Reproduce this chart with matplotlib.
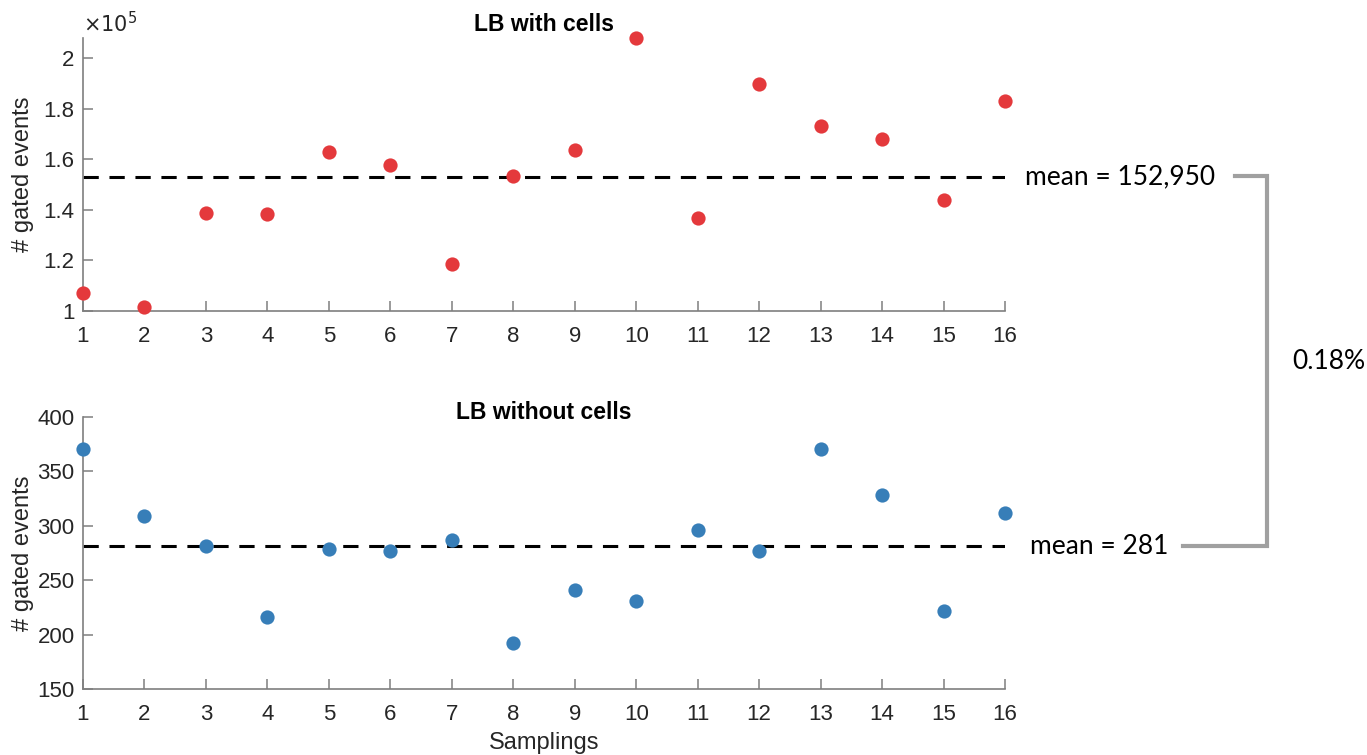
import numpy as np
import matplotlib.pyplot as plt
from matplotlib.ticker import FuncFormatter, MultipleLocator
from matplotlib.lines import Line2D

plt.rcParams['font.family'] = ['Liberation Sans', 'DejaVu Sans']

# data
samplings = list(range(1, 17))
with_cells = [107100, 101600, 138700, 138300, 162800, 157700, 118600, 153400,
              163600, 208000, 136800, 189700, 173100, 168000, 143900, 183000]
without_cells = [371, 309, 281, 216, 279, 277, 287, 192,
                 241, 231, 296, 277, 371, 328, 222, 312]
mean_with = 152950
mean_without = 281
ratio_label = "0.18%"

red = "#E4393C"
blue = "#377EB8"
axis_gray = "#7f7f7f"
text_gray = "#262626"

W, H = 1367, 755
fig = plt.figure(figsize=(W / 100, H / 100), dpi=100)


def px(x0, y0, x1, y1):
    return [x0 / W, 1 - y1 / H, (x1 - x0) / W, (y1 - y0) / H]


ax1 = fig.add_axes(px(83, 38, 1005, 311))
ax2 = fig.add_axes(px(83, 417, 1005, 689))

for ax in (ax1, ax2):
    for s in ("top", "right"):
        ax.spines[s].set_visible(False)
    for s in ("left", "bottom"):
        ax.spines[s].set_color(axis_gray)
        ax.spines[s].set_linewidth(1.2)
    ax.tick_params(direction="in", length=7, width=1.1, color=axis_gray,
                   labelsize=16, labelcolor=text_gray, pad=6)
    ax.tick_params(axis="x", pad=11)
    ax.set_xlim(1, 16)
    ax.set_xticks(samplings)
    ax.set_ylabel("# gated events", fontsize=17, color=text_gray)
    ax.yaxis.set_label_coords(-0.053, 0.5)

# top panel
ax1.scatter(samplings, with_cells, s=105, color=red, zorder=3, clip_on=False,
            linewidths=0)
ax1.axhline(mean_with, color="black", lw=2.2, ls=(0, (5, 3.5)), zorder=2)
ax1.set_ylim(1.0e5, 2.08e5)
ax1.yaxis.set_major_locator(MultipleLocator(0.2e5))
ax1.yaxis.set_major_formatter(FuncFormatter(lambda v, p: "%g" % round(v / 1e5, 2)))
ax1.text(0.0, 1.005, r"$\times10^5$", transform=ax1.transAxes, fontsize=15,
         color=text_gray, va="bottom", ha="left")
ax1.set_title("LB with cells", fontsize=16.5, fontweight="bold", pad=5)
ax1.text(1.0217, mean_with, "mean = 152,950", transform=ax1.get_yaxis_transform(),
         fontsize=19, family="Lato", va="center", ha="left")

# bottom panel
ax2.scatter(samplings, without_cells, s=105, color=blue, zorder=3, clip_on=False,
            linewidths=0)
ax2.axhline(mean_without, color="black", lw=2.2, ls=(0, (5, 3.5)), zorder=2)
ax2.set_ylim(150, 400)
ax2.set_yticks([150, 200, 250, 300, 350, 400])
ax2.set_title("LB without cells", fontsize=16.5, fontweight="bold", pad=0, y=0.993)
ax2.set_xlabel("Samplings", fontsize=17, color=text_gray, labelpad=5)
ax2.text(1.0272, mean_without, "mean = 281", transform=ax2.get_yaxis_transform(),
         fontsize=19, family="Lato", va="center", ha="left")

# bracket linking the two means
bx = [1235 / W, 1267 / W, 1267 / W, 1183 / W]
by = [1 - 176 / H, 1 - 176 / H, 1 - 546 / H, 1 - 546 / H]
fig.add_artist(Line2D(bx, by, transform=fig.transFigure, color="#a0a0a0", lw=3,
                      solid_joinstyle="miter"))
fig.text(1292 / W, 1 - 361 / H, ratio_label, fontsize=19, family="Lato",
         va="center", ha="left")

fig.savefig("out.png", dpi=100)
